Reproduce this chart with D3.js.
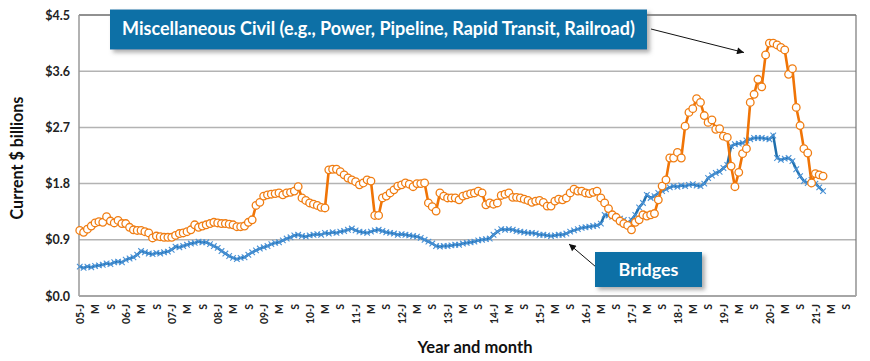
<!DOCTYPE html>
<html><head><meta charset="utf-8">
<script src="https://cdn.jsdelivr.net/npm/d3@7"></script>
<style>body{margin:0;background:#fff;} svg{display:block;font-family:Lato,"Open Sans",sans-serif;}</style>
</head><body><svg id="c" width="870" height="361"></svg>
<script>
// Monthly values, Jan 2005 (index 0) .. Mar 2021, current $ billions
const miscCivil = [
1.05,1.02,1.07,1.12,1.17,1.19,1.18,1.27,1.20,1.17,1.21,1.16,
1.16,1.10,1.06,1.05,1.05,1.03,1.01,0.93,0.96,0.95,0.94,0.94,
0.94,0.97,1.00,1.01,1.03,1.06,1.14,1.10,1.12,1.14,1.16,1.18,
1.17,1.16,1.16,1.15,1.14,1.11,1.11,1.12,1.18,1.22,1.45,1.50,
1.60,1.62,1.63,1.64,1.65,1.62,1.65,1.66,1.68,1.75,1.57,1.53,
1.49,1.47,1.45,1.42,1.41,2.02,2.03,2.03,1.99,1.94,1.89,1.86,
1.83,1.78,1.81,1.86,1.84,1.29,1.29,1.57,1.60,1.65,1.70,1.76,
1.78,1.81,1.79,1.75,1.80,1.80,1.81,1.49,1.43,1.36,1.65,1.60,
1.57,1.57,1.57,1.54,1.60,1.62,1.64,1.65,1.68,1.65,1.46,1.49,
1.47,1.49,1.61,1.63,1.65,1.58,1.58,1.57,1.55,1.53,1.50,1.52,
1.53,1.50,1.44,1.44,1.52,1.55,1.54,1.57,1.65,1.71,1.68,1.68,
1.65,1.64,1.66,1.68,1.57,1.49,1.40,1.30,1.26,1.20,1.16,1.13,
1.06,1.18,1.22,1.30,1.28,1.30,1.32,1.54,1.76,1.86,2.21,2.21,
2.30,2.21,2.72,2.94,3.00,3.16,3.10,2.89,2.78,2.82,2.67,2.68,
2.56,2.54,2.08,1.75,1.98,2.28,2.36,3.10,3.23,3.47,3.35,3.86,
4.05,4.05,4.02,3.98,3.94,3.55,3.64,3.02,2.73,2.36,2.29,1.81,
1.96,1.94,1.92
];
const bridges = [
0.47,0.45,0.47,0.46,0.48,0.49,0.50,0.52,0.51,0.54,0.55,0.54,
0.58,0.60,0.62,0.66,0.72,0.70,0.68,0.67,0.69,0.68,0.70,0.71,
0.74,0.79,0.78,0.80,0.82,0.84,0.85,0.87,0.86,0.86,0.83,0.80,
0.77,0.72,0.68,0.64,0.61,0.59,0.61,0.62,0.66,0.70,0.73,0.76,
0.78,0.80,0.83,0.85,0.86,0.89,0.92,0.94,0.97,0.98,0.96,0.95,
0.97,0.98,0.99,0.98,1.01,1.00,1.02,1.01,1.03,1.04,1.06,1.08,
1.05,1.03,1.02,1.01,1.03,1.05,1.06,1.04,1.02,1.01,1.00,0.98,
0.99,0.98,0.97,0.96,0.95,0.93,0.90,0.87,0.84,0.80,0.79,0.80,
0.80,0.81,0.82,0.82,0.84,0.85,0.86,0.87,0.89,0.90,0.91,0.92,
0.98,1.03,1.07,1.06,1.07,1.06,1.04,1.03,1.02,1.01,1.01,1.00,
0.98,0.98,0.97,0.96,0.97,0.98,0.98,1.00,1.03,1.05,1.07,1.09,
1.10,1.11,1.12,1.13,1.16,1.30,1.29,1.27,1.26,1.24,1.22,1.17,
1.22,1.30,1.42,1.49,1.62,1.57,1.60,1.65,1.68,1.71,1.74,1.76,
1.75,1.77,1.76,1.78,1.79,1.77,1.76,1.80,1.89,1.93,1.97,1.99,
2.05,2.10,2.40,2.43,2.44,2.45,2.49,2.51,2.53,2.53,2.53,2.52,
2.51,2.57,2.21,2.18,2.20,2.21,2.16,2.03,1.92,1.84,1.81,1.86,
1.80,1.74,1.68
];
const yTicks = [0, 0.9, 1.8, 2.7, 3.6, 4.5];
const xTickLabels = [
"05-J","M","S","06-J","M","S","07-J","M","S","08-J","M","S",
"09-J","M","S","10-J","M","S","11-J","M","S","12-J","M","S",
"13-J","M","S","14-J","M","S","15-J","M","S","16-J","M","S",
"17-J","M","S","18-J","M","S","19-J","M","S","20-J","M","S",
"21-J","M","S"
];
const miscLabel = "Miscellaneous Civil (e.g., Power, Pipeline, Rapid Transit, Railroad)";
const bridgesLabel = "Bridges";
const yTitle = "Current $ billions";
const xTitle = "Year and month";

const svg = d3.select('#c');
const x = d3.scaleLinear().domain([-0.2, 202.6]).range([79, 856]);
const y = d3.scaleLinear().domain([0, 4.5]).range([296, 15]);

function fitText(sel, base, target) {
  const w = sel.node().getComputedTextLength();
  sel.attr('font-size', base * target / w);
}

const defs = svg.append('defs');
const f = defs.append('filter').attr('id','sh').attr('x','-10%').attr('y','-30%').attr('width','130%').attr('height','180%');
f.append('feDropShadow').attr('dx',3).attr('dy',3).attr('stdDeviation',2).attr('flood-color','#777').attr('flood-opacity',0.6);
defs.append('marker').attr('id','ah').attr('viewBox','0 0 10 10').attr('refX',10).attr('refY',5)
  .attr('markerWidth',9).attr('markerHeight',7).attr('markerUnits','userSpaceOnUse').attr('orient','auto')
  .append('path').attr('d','M0,0L10,5L0,10Z').attr('fill','#111');

// gridlines
svg.append('g').selectAll('line').data(yTicks.filter(d => d > 0 && d < 4.5)).join('line')
  .attr('x1', x.range()[0]).attr('x2', x.range()[1])
  .attr('y1', d => y(d)).attr('y2', d => y(d))
  .attr('stroke', '#b3b3b3').attr('stroke-width', 1.5);
// plot borders
svg.append('line').attr('x1',79).attr('x2',856).attr('y1',y(4.5)).attr('y2',y(4.5)).attr('stroke','#222').attr('stroke-width',1);
svg.append('line').attr('x1',856).attr('x2',856).attr('y1',y(4.5)).attr('y2',y(0)).attr('stroke','#777').attr('stroke-width',1.2);
svg.append('line').attr('x1',79).attr('x2',79).attr('y1',y(4.5)).attr('y2',y(0)).attr('stroke','#999').attr('stroke-width',1.5);
svg.append('line').attr('x1',79).attr('x2',856).attr('y1',y(0)).attr('y2',y(0)).attr('stroke','#a6a6a6').attr('stroke-width',2);

// y axis
const ya = svg.append('g').attr('transform','translate(79,0)')
  .call(d3.axisLeft(y).tickValues(yTicks).tickFormat(d => '$' + d.toFixed(1)).tickSize(0).tickPadding(9));
ya.select('.domain').remove();
ya.selectAll('text').attr('font-size', 12.5).attr('font-weight', 700).attr('fill', '#222').attr('font-family','Lato,sans-serif');

// x axis
const xa = svg.append('g').attr('transform', `translate(0,${y(0)})`)
  .call(d3.axisBottom(x).tickValues(d3.range(0, 201, 4)).tickFormat((d, i) => xTickLabels[i]).tickSize(0));
xa.select('.domain').remove();
xa.selectAll('text').attr('transform','rotate(-90)').attr('x', -8).attr('y', 0).attr('dy','0.35em')
  .style('text-anchor','end').attr('font-size', 10.5).attr('font-weight', 700).attr('fill','#222').attr('font-family','Lato,sans-serif');

// series
const line = d3.line().x((d, i) => x(i)).y(d => y(d));
svg.append('path').datum(bridges).attr('d', line).attr('fill','none').attr('stroke','#1f6fad').attr('stroke-width',2.5);
svg.append('g').selectAll('path').data(bridges).join('path')
  .attr('transform', (d, i) => `translate(${x(i)},${y(d)})`)
  .attr('d','M-2.8,-2.8L2.8,2.8M-2.8,2.8L2.8,-2.8')
  .attr('stroke','#4a92d6').attr('stroke-width',1.1).attr('fill','none');

svg.append('path').datum(miscCivil).attr('d', line).attr('fill','none').attr('stroke','#f07406').attr('stroke-width',2.6);
svg.append('g').selectAll('circle').data(miscCivil).join('circle')
  .attr('cx', (d, i) => x(i)).attr('cy', d => y(d)).attr('r', 3.8)
  .attr('fill','#fff').attr('stroke','#f07d12').attr('stroke-width',1.3);

// axis titles
const yt = svg.append('text').attr('transform','translate(23,158) rotate(-90)').attr('text-anchor','middle')
  .attr('font-size',14).attr('font-weight',700).attr('fill','#111').text(yTitle);
fitText(yt, 14, 123);
const xt = svg.append('text').attr('x',475).attr('y',353).attr('text-anchor','middle')
  .attr('font-size',14).attr('font-weight',700).attr('fill','#111').text(xTitle);
fitText(xt, 14, 115);

// annotations
svg.append('line').attr('x1',651).attr('y1',29).attr('x2',744).attr('y2',52.5)
  .attr('stroke','#111').attr('stroke-width',1).attr('marker-end','url(#ah)');
svg.append('line').attr('x1',596).attr('y1',267).attr('x2',569).attr('y2',244)
  .attr('stroke','#111').attr('stroke-width',1).attr('marker-end','url(#ah)');

svg.append('rect').attr('x',110).attr('y',9.5).attr('width',537).attr('height',40).attr('fill','#1170a6').attr('filter','url(#sh)');
const t1 = svg.append('text').attr('x',378.5).attr('y',35).attr('text-anchor','middle')
  .attr('font-size',15).attr('font-weight',700).attr('fill','#fff').text(miscLabel);
fitText(t1, 15, 513);

svg.append('rect').attr('x',595).attr('y',252).attr('width',107).attr('height',35).attr('fill','#1170a6').attr('filter','url(#sh)');
const t2 = svg.append('text').attr('x',648.5).attr('y',275.5).attr('text-anchor','middle')
  .attr('font-size',16).attr('font-weight',700).attr('fill','#fff').text(bridgesLabel);
fitText(t2, 16, 60);
</script></body></html>
